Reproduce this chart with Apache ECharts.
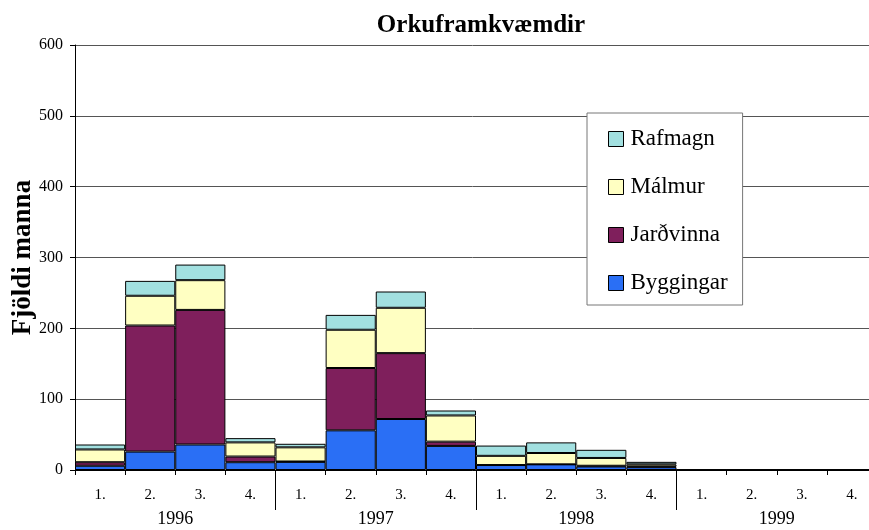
<!DOCTYPE html>
<html>
<head>
<meta charset="utf-8">
<script src="https://cdn.jsdelivr.net/npm/echarts@6/dist/echarts.min.js"></script>
<style>
  html, body { margin: 0; padding: 0; background: #fff; }
  #chart { width: 869px; height: 530px; }
</style>
</head>
<body>
<div id="chart"></div>
<script>
// quarters per year, 1996-1999
var quarters = ['1.', '2.', '3.', '4.', '1.', '2.', '3.', '4.',
                '1.', '2.', '3.', '4.', '1.', '2.', '3.', '4.'];
var years = ['1996', '1997', '1998', '1999'];
var yTicks = [0, 100, 200, 300, 400, 500, 600];

// number of workers, stacked from the bottom
var byggingar = [6, 26, 36, 11, 11.5, 56, 72, 34, 7, 8, 5, 4, 0, 0, 0, 0];
var jardvinna = [5, 178, 190, 8, 0.5, 88, 93, 6, 0, 0, 1, 1, 0, 0, 0, 0];
var malmur    = [18, 42, 42, 20, 20, 54, 64, 37, 13, 16, 11, 3, 0, 0, 0, 0];
var rafmagn   = [7, 21, 22, 6, 5, 21, 23, 7, 14.5, 15, 11.5, 3.5, 0, 0, 0, 0];

var serif = 'Liberation Serif';

var chart = echarts.init(document.getElementById('chart'));

function barSeries(name, data, color) {
  return {
    name: name,
    type: 'bar',
    stack: 'total',
    xAxisIndex: 0,
    barCategoryGap: 0,
    data: data,
    itemStyle: { color: color, borderColor: '#000', borderWidth: 1 }
  };
}

chart.setOption({
  animation: false,
  textStyle: { fontFamily: serif },
  title: {
    text: 'Orkuframkvæmdir',
    left: 476,
    top: 8,
    textAlign: 'center',
    textStyle: { fontFamily: serif, fontSize: 25, fontWeight: 'bold', color: '#000' }
  },
  legend: {
    orient: 'vertical',
    left: 587,
    top: 113,
    data: ['Rafmagn', 'Málmur', 'Jarðvinna', 'Byggingar'],
    backgroundColor: '#fff',
    borderColor: '#777',
    borderWidth: 1,
    padding: [14, 15, 10, 21],
    itemGap: 24,
    itemWidth: 15,
    itemHeight: 15,
    icon: 'rect',
    itemStyle: { borderColor: '#000', borderWidth: 1 },
    textStyle: { fontFamily: serif, fontSize: 23, color: '#000', lineHeight: 24, padding: [0, 0, 0, 2] }
  },
  grid: {
    left: 75,
    right: -8,
    top: 45,
    bottom: 60,
    containLabel: false,
    outerBoundsMode: 'none'
  },
  xAxis: [{
    type: 'category',
    data: quarters,
    boundaryGap: true,
    axisLine: { lineStyle: { color: '#000', width: 1 } },
    axisTick: { show: true, length: 5, lineStyle: { color: '#000' } },
    axisLabel: { interval: 0, margin: 18, fontFamily: serif, fontSize: 15, color: '#000' },
    splitLine: { show: false }
  }, {
    type: 'value',
    min: 0,
    max: 16,
    position: 'bottom',
    axisLine: { show: false },
    splitLine: { show: false },
    axisTick: { show: true, length: 40, customValues: [4, 8, 12], lineStyle: { color: '#000' } },
    axisLabel: {
      customValues: [2, 6, 10, 14],
      formatter: function (v) { return years[(v - 2) / 4]; },
      margin: 40,
      fontFamily: serif, fontSize: 18, color: '#000'
    }
  }],
  yAxis: {
    type: 'value',
    min: 0,
    max: 600,
    interval: 100,
    name: 'Fjöldi manna',
    nameLocation: 'middle',
    nameRotate: 90,
    nameGap: 38,
    nameMoveOverlap: false,
    nameTextStyle: { fontFamily: serif, fontSize: 27, fontWeight: 'bold', color: '#000' },
    axisLine: { show: true, lineStyle: { color: '#000' } },
    axisTick: { show: true, length: 5, lineStyle: { color: '#000' } },
    axisLabel: {
      margin: 12, fontFamily: serif, fontSize: 16, color: '#000',
      formatter: function (v) { return yTicks.indexOf(v) >= 0 ? String(v) : ''; }
    },
    splitLine: { show: true, lineStyle: { color: '#555', width: 1 } }
  },
  series: [
    barSeries('Byggingar', byggingar, '#2A6FF5'),
    barSeries('Jarðvinna', jardvinna, '#7F1F5C'),
    barSeries('Málmur', malmur, '#FFFFC2'),
    barSeries('Rafmagn', rafmagn, '#A2E0E0')
  ]
});
</script>
</body>
</html>
